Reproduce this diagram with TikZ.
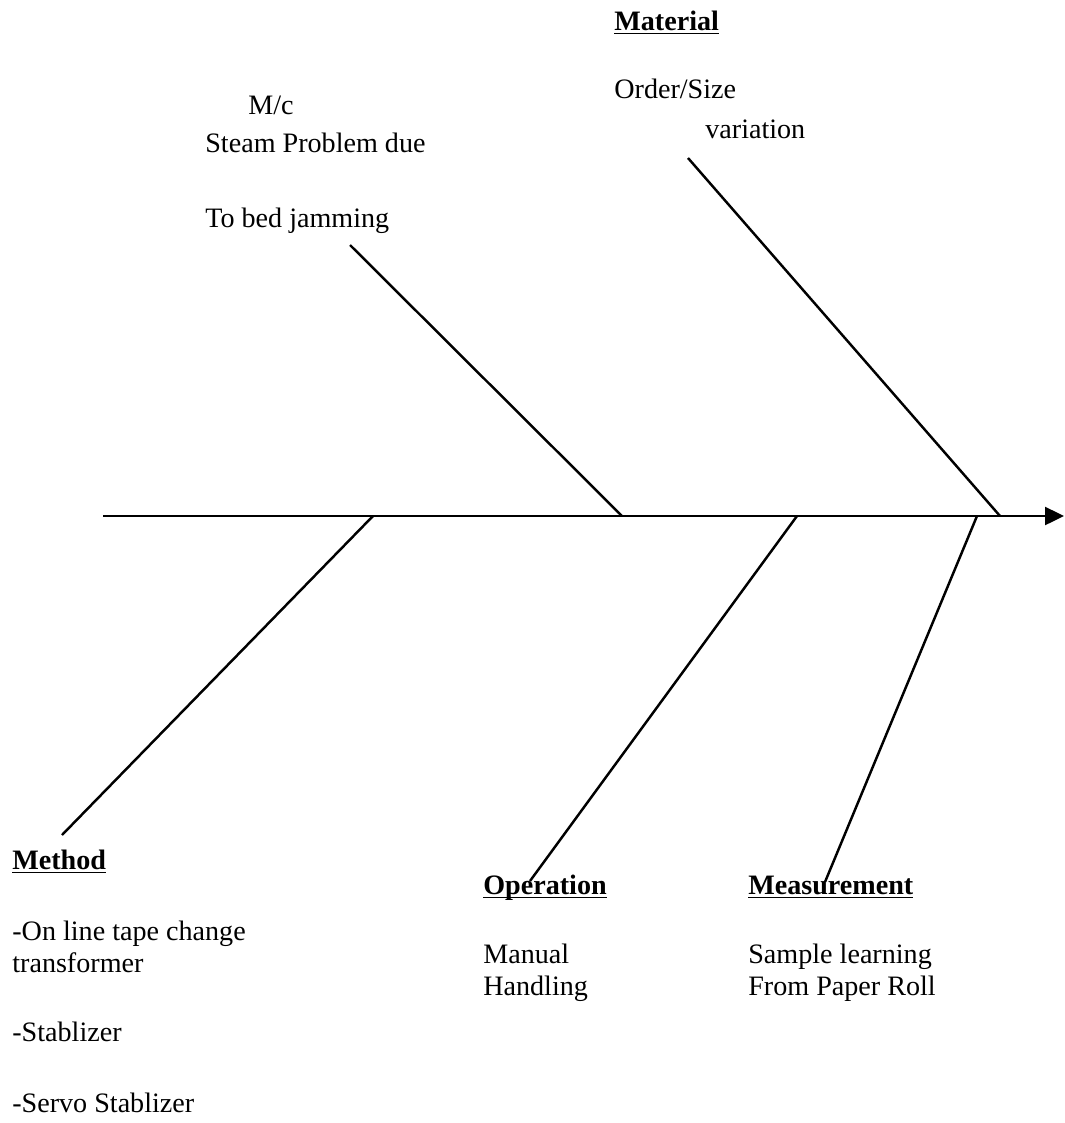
\documentclass[tikz,border=0pt]{standalone}
\usepackage{fontspec}
\setmainfont{Liberation Serif}
\usetikzlibrary{arrows.meta}
\newcommand{\headline}[1]{\underline{\raisebox{0pt}[\height][0pt]{#1}}}
\tikzset{
    bone/.style = {line width = 1.4pt},
    lbl/.style = {anchor = west, inner sep = 0pt, text height = 0.7em, text depth = 0.25em},
    head/.style = {lbl, font = \fontsize{16}{19}\selectfont\bfseries}
}
\begin{document}
\begin{tikzpicture}[x = 0.02cm, y = -0.02cm, font = \fontsize{16}{19}\selectfont]
            \useasboundingbox (0,0) rectangle (1065,1123);
            \coordinate (tail) at (103,516);
            \coordinate (tip) at (1064,516);
            \coordinate (mcTop) at (350,245);
            \coordinate (mcFoot) at (622,516);
            \coordinate (matTop) at (688,158);
            \coordinate (matFoot) at (1000,516);
            \coordinate (methRoot) at (373,516);
            \coordinate (methEnd) at (62,835);
            \coordinate (opRoot) at (797,516);
            \coordinate (opEnd) at (530,881);
            \coordinate (measRoot) at (977,516);
            \coordinate (measEnd) at (825,882);
            \draw[bone, -{Triangle[length = 0.38cm, width = 0.36cm]}] (tail) -- (tip);
            \draw[bone] (mcTop) -- (mcFoot);
            \draw[bone] (matTop) -- (matFoot);
            \draw[bone] (methRoot) -- (methEnd);
            \draw[bone] (opRoot) -- (opEnd);
            \draw[bone] (measRoot) -- (measEnd);
            \node[head] (matHead) at (614,27) {\headline{Material}};
            \node[lbl] (matA) at (614,95) {Order/Size};
            \node[lbl] (matB) at (705,135) {variation};
            \node[lbl] (mcA) at (248,111) {M/c};
            \node[lbl] (mcB) at (205,149) {Steam Problem due};
            \node[lbl] (mcC) at (205,224) {To bed jamming};
            \node[head] (methHead) at (12,866) {\headline{Method}};
            \node[lbl] (methA) at (12,937) {-On line tape change};
            \node[lbl] (methB) at (12,969) {transformer};
            \node[lbl] (methC) at (12,1038) {-Stablizer};
            \node[lbl] (methD) at (12,1109) {-Servo Stablizer};
            \node[head] (opHead) at (483,891) {\headline{Operation}};
            \node[lbl] (opA) at (483,960) {Manual};
            \node[lbl] (opB) at (483,992) {Handling};
            \node[head] (measHead) at (748,891) {\headline{Measurement}};
            \node[lbl] (measA) at (748,960) {Sample learning};
            \node[lbl] (measB) at (748,992) {From Paper Roll};
\end{tikzpicture}
\end{document}
